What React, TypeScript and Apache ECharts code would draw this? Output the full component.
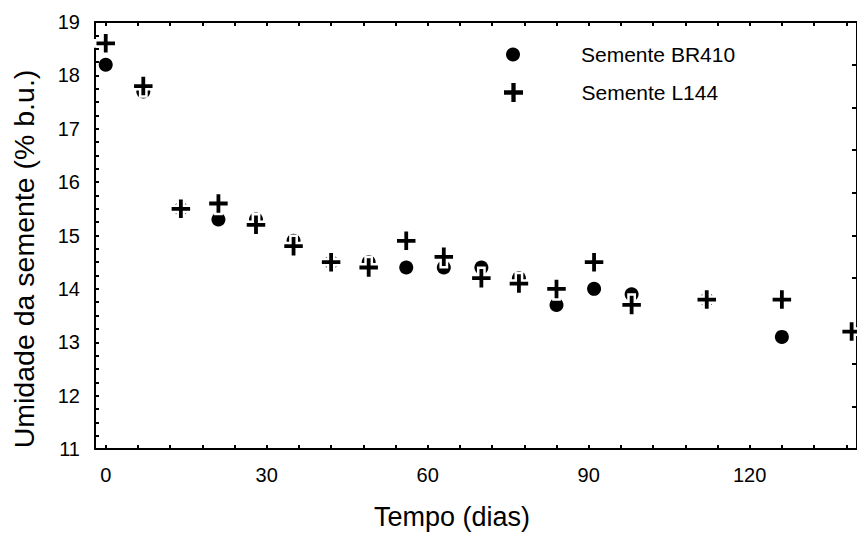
import React, { useEffect, useRef } from "react";
import * as echarts from "echarts";

const days = [0, 7, 14, 21, 28, 35, 42, 49, 56, 63, 70, 77, 84, 91, 98, 112, 126, 139];
const br410 = [18.2, 17.7, 15.5, 15.3, 15.3, 14.9, 14.5, 14.5, 14.4, 14.4, 14.4, 14.2, 13.7, 14.0, 13.9, 13.8, 13.1];
const l144 = [18.6, 17.8, 15.5, 15.6, 15.2, 14.8, 14.5, 14.4, 14.9, 14.6, 14.2, 14.1, 14.0, 14.5, 13.7, 13.8, 13.8, 13.2];
const xLabels = [0, 30, 60, 90, 120];
const xTickStep = 6;
const seriesNames = ["Semente BR410", "Semente L144"];
const xTitle = "Tempo (dias)";
const yTitle = "Umidade da semente (% b.u.)";

const FONT = "'Liberation Sans', Arial, sans-serif";
const PLUS =
  "path://M7.0,0 H13.0 V7.0 H20 V13.0 H13.0 V20 H7.0 V13.0 H0 V7.0 H7.0 Z";

export default function App() {
  const ref = useRef<HTMLDivElement>(null);
  useEffect(() => {
    if (!ref.current) return;
    const chart = echarts.init(ref.current, null, { renderer: "svg" });
    const xTicks: number[] = [];
    for (let v = 0; v <= 140; v += xTickStep) xTicks.push(v);
    const axisLine = { show: true, onZero: false, lineStyle: { color: "#000", width: 2 } };
    const tick = (len: number) => ({ show: true, inside: true, length: len, lineStyle: { color: "#000", width: 2 } });
    const xCommon = {
      type: "value",
      min: -2,
      max: 140,
      axisLine,
      axisTick: { ...tick(4), customValues: xTicks },
      splitLine: { show: false },
    };
    chart.setOption({
      animation: false,
      backgroundColor: "#fff",
      textStyle: { fontFamily: FONT },
      grid: { left: 95, right: -2.6, top: 22, bottom: 87, containLabel: false },
      xAxis: [
        {
          ...xCommon,
          position: "bottom",
          axisLabel: {
            show: true,
            fontSize: 20,
            color: "#000",
            fontFamily: FONT,
            margin: 16,
            customValues: xLabels,
          },
        },
        { ...xCommon, position: "top", axisLabel: { show: false } },
      ],
      yAxis: [
        {
          type: "value",
          min: 11,
          max: 19,
          interval: 1,
          position: "left",
          axisLine,
          axisTick: tick(4),
          minorTick: { show: true, splitNumber: 4, length: 4, lineStyle: { color: "#000", width: 2 } },
          splitLine: { show: false },
          minorSplitLine: { show: false },
          axisLabel: { fontSize: 20, color: "#000", fontFamily: FONT, margin: 15 },
        },
        {
          type: "value",
          min: 0,
          max: 10,
          interval: 1,
          position: "right",
          axisLine,
          axisTick: tick(5),
          splitLine: { show: false },
          axisLabel: { show: false },
        },
      ],
      legend: [
        {
          data: [seriesNames[0]],
          left: 506,
          top: 44,
          padding: 0,
          itemWidth: 126,
          itemHeight: 14,
          textStyle: { fontSize: 21, color: "#000", fontFamily: FONT },
        },
        {
          data: [seriesNames[1]],
          left: 502,
          top: 81,
          padding: 0,
          itemWidth: 126,
          itemHeight: 21,
          textStyle: { fontSize: 21, color: "#000", fontFamily: FONT },
        },
      ],
      graphic: [
        {
          type: "text",
          x: 452,
          y: 517,
          style: { text: xTitle, font: `27px ${FONT}`, fill: "#000", align: "center", verticalAlign: "middle" },
        },
        {
          type: "text",
          x: 24,
          y: 259,
          rotation: Math.PI / 2,
          style: { text: yTitle, font: `28.5px ${FONT}`, fill: "#000", align: "center", verticalAlign: "middle" },
        },
      ],
      series: [
        {
          name: seriesNames[0],
          type: "scatter",
          symbol: "circle",
          symbolSize: 14,
          itemStyle: { color: "#000", opacity: 1 },
          data: br410.map((v, i) => [days[i], v]),
        },
        {
          name: seriesNames[1],
          type: "scatter",
          symbol: PLUS,
          symbolSize: 21,
          itemStyle: { color: "#000", borderColor: "#fff", borderWidth: 2.5, opacity: 1 },
          data: l144.map((v, i) => [days[i], v]),
        },
      ],
    });
    return () => chart.dispose();
  }, []);
  return (
    <div
      ref={ref}
      style={{ position: "absolute", left: 0, top: 0, width: 857, height: 536, background: "#fff" }}
    />
  );
}
